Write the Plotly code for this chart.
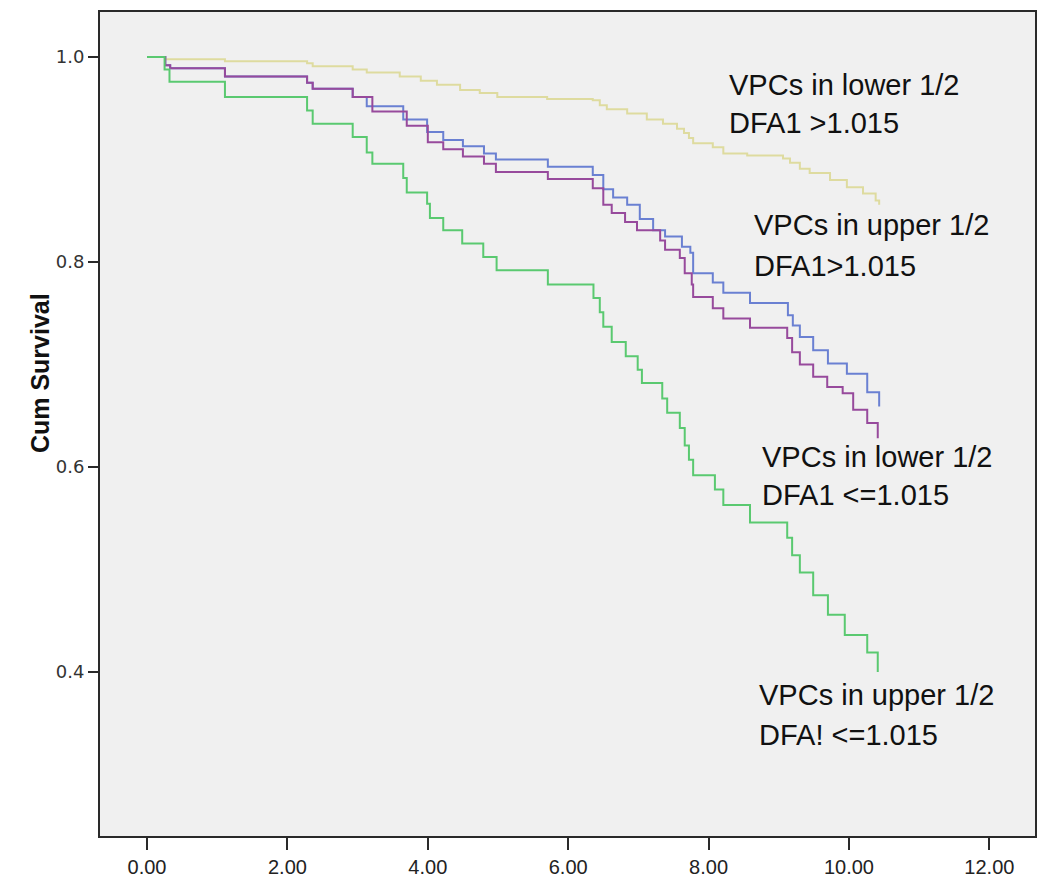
import plotly.graph_objects as go

# ---- data (time, cumulative survival) ----
yellow_t = [0, 0.26, 1.11, 2.28, 2.36, 2.93, 3.13, 3.60, 3.90, 4.13, 4.46, 4.74, 4.99, 5.70, 6.35, 6.45, 6.55, 6.84, 7.12, 7.35, 7.55, 7.65, 7.72, 7.78, 8.06, 8.21, 8.55, 9.06, 9.16, 9.30, 9.44, 9.73, 9.97, 10.20, 10.38, 10.43]
yellow_s = [1.0, 0.998, 0.996, 0.994, 0.991, 0.988, 0.985, 0.981, 0.977, 0.973, 0.968, 0.965, 0.961, 0.959, 0.958, 0.953, 0.949, 0.945, 0.939, 0.935, 0.930, 0.926, 0.921, 0.916, 0.912, 0.906, 0.904, 0.901, 0.897, 0.891, 0.887, 0.880, 0.873, 0.867, 0.860, 0.856]

blue_t = [0, 0.26, 0.33, 1.11, 2.28, 2.36, 2.93, 3.13, 3.65, 3.99, 4.22, 4.50, 4.80, 4.97, 5.71, 6.35, 6.50, 6.64, 6.84, 7.02, 7.21, 7.38, 7.62, 7.74, 7.78, 8.06, 8.21, 8.59, 9.13, 9.20, 9.30, 9.49, 9.70, 9.97, 10.26, 10.43]
blue_s = [1.0, 0.992, 0.989, 0.981, 0.975, 0.969, 0.961, 0.952, 0.939, 0.927, 0.919, 0.913, 0.906, 0.900, 0.893, 0.885, 0.871, 0.863, 0.856, 0.842, 0.831, 0.825, 0.815, 0.809, 0.789, 0.780, 0.770, 0.760, 0.748, 0.738, 0.727, 0.714, 0.701, 0.691, 0.673, 0.659]

purple_t = [0, 0.26, 0.33, 1.11, 2.28, 2.36, 2.93, 3.21, 3.70, 4.00, 4.22, 4.50, 4.80, 4.97, 5.71, 6.35, 6.50, 6.62, 6.81, 6.98, 7.31, 7.38, 7.59, 7.66, 7.76, 7.78, 8.06, 8.21, 8.59, 9.12, 9.19, 9.30, 9.49, 9.69, 9.91, 10.06, 10.26, 10.41]
purple_s = [1.0, 0.992, 0.989, 0.981, 0.975, 0.969, 0.961, 0.947, 0.933, 0.917, 0.910, 0.903, 0.896, 0.888, 0.881, 0.872, 0.856, 0.848, 0.839, 0.831, 0.821, 0.812, 0.804, 0.789, 0.778, 0.766, 0.755, 0.745, 0.736, 0.726, 0.712, 0.700, 0.688, 0.678, 0.672, 0.656, 0.643, 0.628]

green_t = [0, 0.25, 0.32, 1.11, 2.28, 2.36, 2.93, 3.13, 3.21, 3.65, 3.70, 3.99, 4.03, 4.22, 4.49, 4.79, 4.98, 5.71, 6.36, 6.45, 6.50, 6.62, 6.82, 6.99, 7.05, 7.34, 7.41, 7.59, 7.66, 7.72, 7.78, 8.09, 8.21, 8.59, 9.12, 9.19, 9.30, 9.49, 9.70, 9.94, 10.26, 10.41]
green_s = [1.0, 0.988, 0.976, 0.961, 0.948, 0.935, 0.922, 0.907, 0.896, 0.882, 0.868, 0.857, 0.843, 0.831, 0.818, 0.805, 0.792, 0.778, 0.765, 0.751, 0.737, 0.722, 0.708, 0.695, 0.682, 0.667, 0.653, 0.638, 0.621, 0.607, 0.592, 0.578, 0.563, 0.546, 0.531, 0.514, 0.497, 0.475, 0.456, 0.436, 0.419, 0.400]

# label lines: (text, x, y)
label_lines = [
    ("VPCs in lower 1/2", 8.26, 0.973), ("DFA1 >1.015", 8.26, 0.936),
    ("VPCs in upper 1/2", 8.62, 0.836), ("DFA1>1.015", 8.62, 0.796),
    ("VPCs in lower 1/2", 8.73, 0.610), ("DFA1 <=1.015", 8.73, 0.573),
    ("VPCs in upper 1/2", 8.69, 0.378), ("DFA! <=1.015", 8.69, 0.339),
]

x_ticks = [0, 2, 4, 6, 8, 10, 12]
y_ticks = [0.4, 0.6, 0.8, 1.0]
y_title = "Cum Survival"

series = [
    (yellow_t, yellow_s, "#dedb9f"),
    (blue_t, blue_s, "#6a80d2"),
    (purple_t, purple_s, "#974a9c"),
    (green_t, green_s, "#5ac970"),
]

fig = go.Figure()
for t, s, c in series:
    fig.add_trace(go.Scatter(x=t, y=s, mode="lines", line=dict(color=c, width=2, shape="hv"),
                             showlegend=False, hoverinfo="skip"))

for txt, x, y in label_lines:
    fig.add_annotation(x=x, y=y, xref="x", yref="y", text=txt, showarrow=False,
                       xanchor="left", yanchor="middle", align="left",
                       font=dict(family="Liberation Sans, Arial, sans-serif", size=29, color="#111111"))

# y axis title as rotated annotation (paper coords relative to plot area)
fig.add_annotation(x=-0.064, y=0.562, xref="paper", yref="paper", text=f"<b>{y_title}</b>",
                   showarrow=False, textangle=-90, xanchor="center", yanchor="middle",
                   font=dict(family="Liberation Sans, Arial, sans-serif", size=25, color="#111111"))

# page body adds ~8px offset; figure sized to compensate
fig.update_layout(
    width=1034, height=876,
    margin=dict(l=92, r=7, t=4, b=48, autoexpand=False),
    paper_bgcolor="white",
    plot_bgcolor="#f0f0f0",
    showlegend=False,
)
fig.update_xaxes(
    range=[-0.67, 12.65], tickvals=x_ticks, ticktext=[f"{v:.2f}" for v in x_ticks],
    showgrid=False, zeroline=False, showline=True, linecolor="#2a2a2a", linewidth=2, mirror=True,
    ticks="outside", ticklen=12, tickwidth=2, tickcolor="#2a2a2a", automargin=False,
    tickfont=dict(family="Liberation Sans Narrow, Arial Narrow, Liberation Sans, sans-serif", size=20, color="#222222"),
)
fig.update_yaxes(
    range=[0.24, 1.044], tickvals=y_ticks, ticktext=[f"{v:.1f}" for v in y_ticks],
    showgrid=False, zeroline=False, showline=True, linecolor="#2a2a2a", linewidth=2, mirror=True,
    ticks="outside", ticklen=10, tickwidth=2, tickcolor="#2a2a2a", automargin=False,
    tickfont=dict(family="DejaVu Sans, sans-serif", size=18, color="#333333"),
)

fig.write_html("out.html")
